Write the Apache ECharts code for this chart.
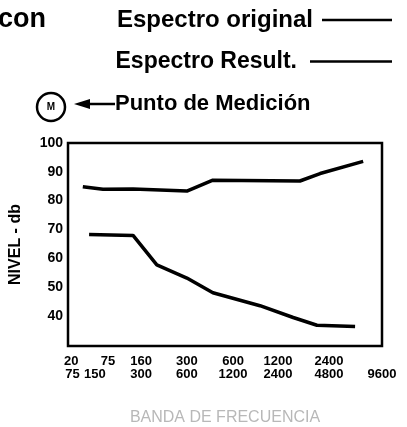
<!DOCTYPE html>
<html lang="es">
<head>
    <meta charset="UTF-8">
    <title>Espectro original / Espectro Result.</title>
    <script src="https://cdn.jsdelivr.net/npm/echarts@6/dist/echarts.min.js"></script>
    <style>
        html, body { margin: 0; padding: 0; background: #fff; }
        #container { width: 407px; height: 427px; }
    </style>
</head>
<body>
<div id="container"></div>
<script>
    // posiciones en el eje x en "bandas" (0 = borde izquierdo, 7 = borde derecho)
    var bandaInf = ['20', '75', '160', '300', '600', '1200', '2400'];
    var posInf = [0.07, 0.89, 1.63, 2.65, 3.68, 4.68, 5.82];
    var bandaSup = ['75', '150', '300', '600', '1200', '2400', '4800', '9600'];
    var posSup = [0.1, 0.6, 1.63, 2.65, 3.68, 4.68, 5.82, 7];

    var nivelTicks = [40, 50, 60, 70, 80, 90, 100];

    var originalX = [0.33, 0.78, 1.45, 2.65, 3.23, 5.17, 5.62, 6.58];
    var originalY = [84.8, 83.9, 84.0, 83.3, 87.1, 86.8, 89.4, 93.6];
    var resultX = [0.47, 1.45, 1.98, 2.65, 3.23, 4.28, 5.02, 5.55, 6.40];
    var resultY = [68.2, 67.9, 57.7, 53.1, 48.0, 43.5, 39.4, 36.7, 36.3];

    function pares(xs, ys) {
        var out = [];
        for (var i = 0; i < xs.length; i++) out.push([xs[i], ys[i]]);
        return out;
    }
    function etiqueta(pos, txt) {
        return function (v) {
            for (var i = 0; i < pos.length; i++) {
                if (Math.abs(pos[i] - v) < 1e-6) return txt[i];
            }
            return '';
        };
    }

    var chart = echarts.init(document.getElementById('container'));
    var fuente = '"Liberation Sans", Arial, sans-serif';

    var option = {
        animation: false,
        textStyle: { fontFamily: fuente },
        title: {
            text: 'con',
            left: -2, top: 6,
            padding: 0,
            textStyle: { fontSize: 27, fontWeight: 'bold', color: '#000', fontFamily: fuente }
        },
        legend: [{
            data: ['Espectro original'],
            right: 15, top: 8, padding: 0,
            align: 'right',
            icon: 'rect',
            itemWidth: 70, itemHeight: 2.5, itemGap: 0,
            textStyle: { fontSize: 24, fontWeight: 'bold', color: '#000', padding: [0, 4, 0, 0] }
        }, {
            data: ['Espectro Result.'],
            right: 15, top: 50, padding: 0,
            align: 'right',
            icon: 'rect',
            itemWidth: 82, itemHeight: 2.5, itemGap: 0,
            textStyle: { fontSize: 23, fontWeight: 'bold', color: '#000', padding: [0, 8, 0, 0] }
        }],
        graphic: [
            { type: 'circle', shape: { cx: 51, cy: 107, r: 14 }, style: { fill: 'none', stroke: '#000', lineWidth: 2.5 } },
            { type: 'text', x: 51, y: 107, style: { text: 'M', fill: '#000', align: 'center', verticalAlign: 'middle', font: 'bold 10px ' + fuente } },
            { type: 'line', shape: { x1: 86, y1: 104, x2: 115, y2: 104 }, style: { stroke: '#000', lineWidth: 2.5 } },
            { type: 'polygon', shape: { points: [[74, 104], [90, 99], [90, 109]] }, style: { fill: '#000' } },
            { type: 'text', x: 115, y: 104, style: { text: 'Punto de Medición', fill: '#000', verticalAlign: 'middle', font: 'bold 22px ' + fuente } }
        ],
        grid: {
            show: true,
            left: 68, right: 25, top: 143, bottom: 78,
            borderColor: '#000', borderWidth: 2.5
        },
        xAxis: [{
            type: 'value',
            min: 0, max: 7,
            name: 'BANDA DE FRECUENCIA',
            nameLocation: 'middle',
            nameGap: 64,
            nameTextStyle: { color: '#b8b8b8', fontSize: 16, fontFamily: fuente },
            axisLine: { show: false },
            axisTick: { show: false },
            splitLine: { show: false },
            axisLabel: {
                customValues: posInf,
                formatter: etiqueta(posInf, bandaInf),
                margin: 9,
                fontSize: 13, fontWeight: 'bold', color: '#000'
            }
        }, {
            type: 'value',
            position: 'bottom',
            offset: 13,
            min: 0, max: 7,
            axisLine: { show: false },
            axisTick: { show: false },
            splitLine: { show: false },
            axisLabel: {
                customValues: posSup,
                formatter: etiqueta(posSup, bandaSup),
                margin: 9,
                fontSize: 13, fontWeight: 'bold', color: '#000'
            }
        }],
        yAxis: {
            type: 'value',
            min: 29.5, max: 100,
            name: 'NIVEL - db',
            nameLocation: 'middle',
            nameRotate: 90,
            nameGap: 44,
            nameTextStyle: { fontSize: 16, fontWeight: 'bold', color: '#000' },
            axisLine: { show: false },
            axisTick: { show: false },
            splitLine: { show: false },
            axisLabel: {
                customValues: nivelTicks,
                margin: 5,
                fontSize: 14, fontWeight: 'bold', color: '#000'
            }
        },
        series: [{
            name: 'Espectro original',
            type: 'line',
            symbol: 'none',
            data: pares(originalX, originalY),
            lineStyle: { color: '#000', width: 3.5 },
            itemStyle: { color: '#000' }
        }, {
            name: 'Espectro Result.',
            type: 'line',
            symbol: 'none',
            data: pares(resultX, resultY),
            lineStyle: { color: '#000', width: 3.5 },
            itemStyle: { color: '#000' }
        }]
    };
    chart.setOption(option);
</script>
</body>
</html>
